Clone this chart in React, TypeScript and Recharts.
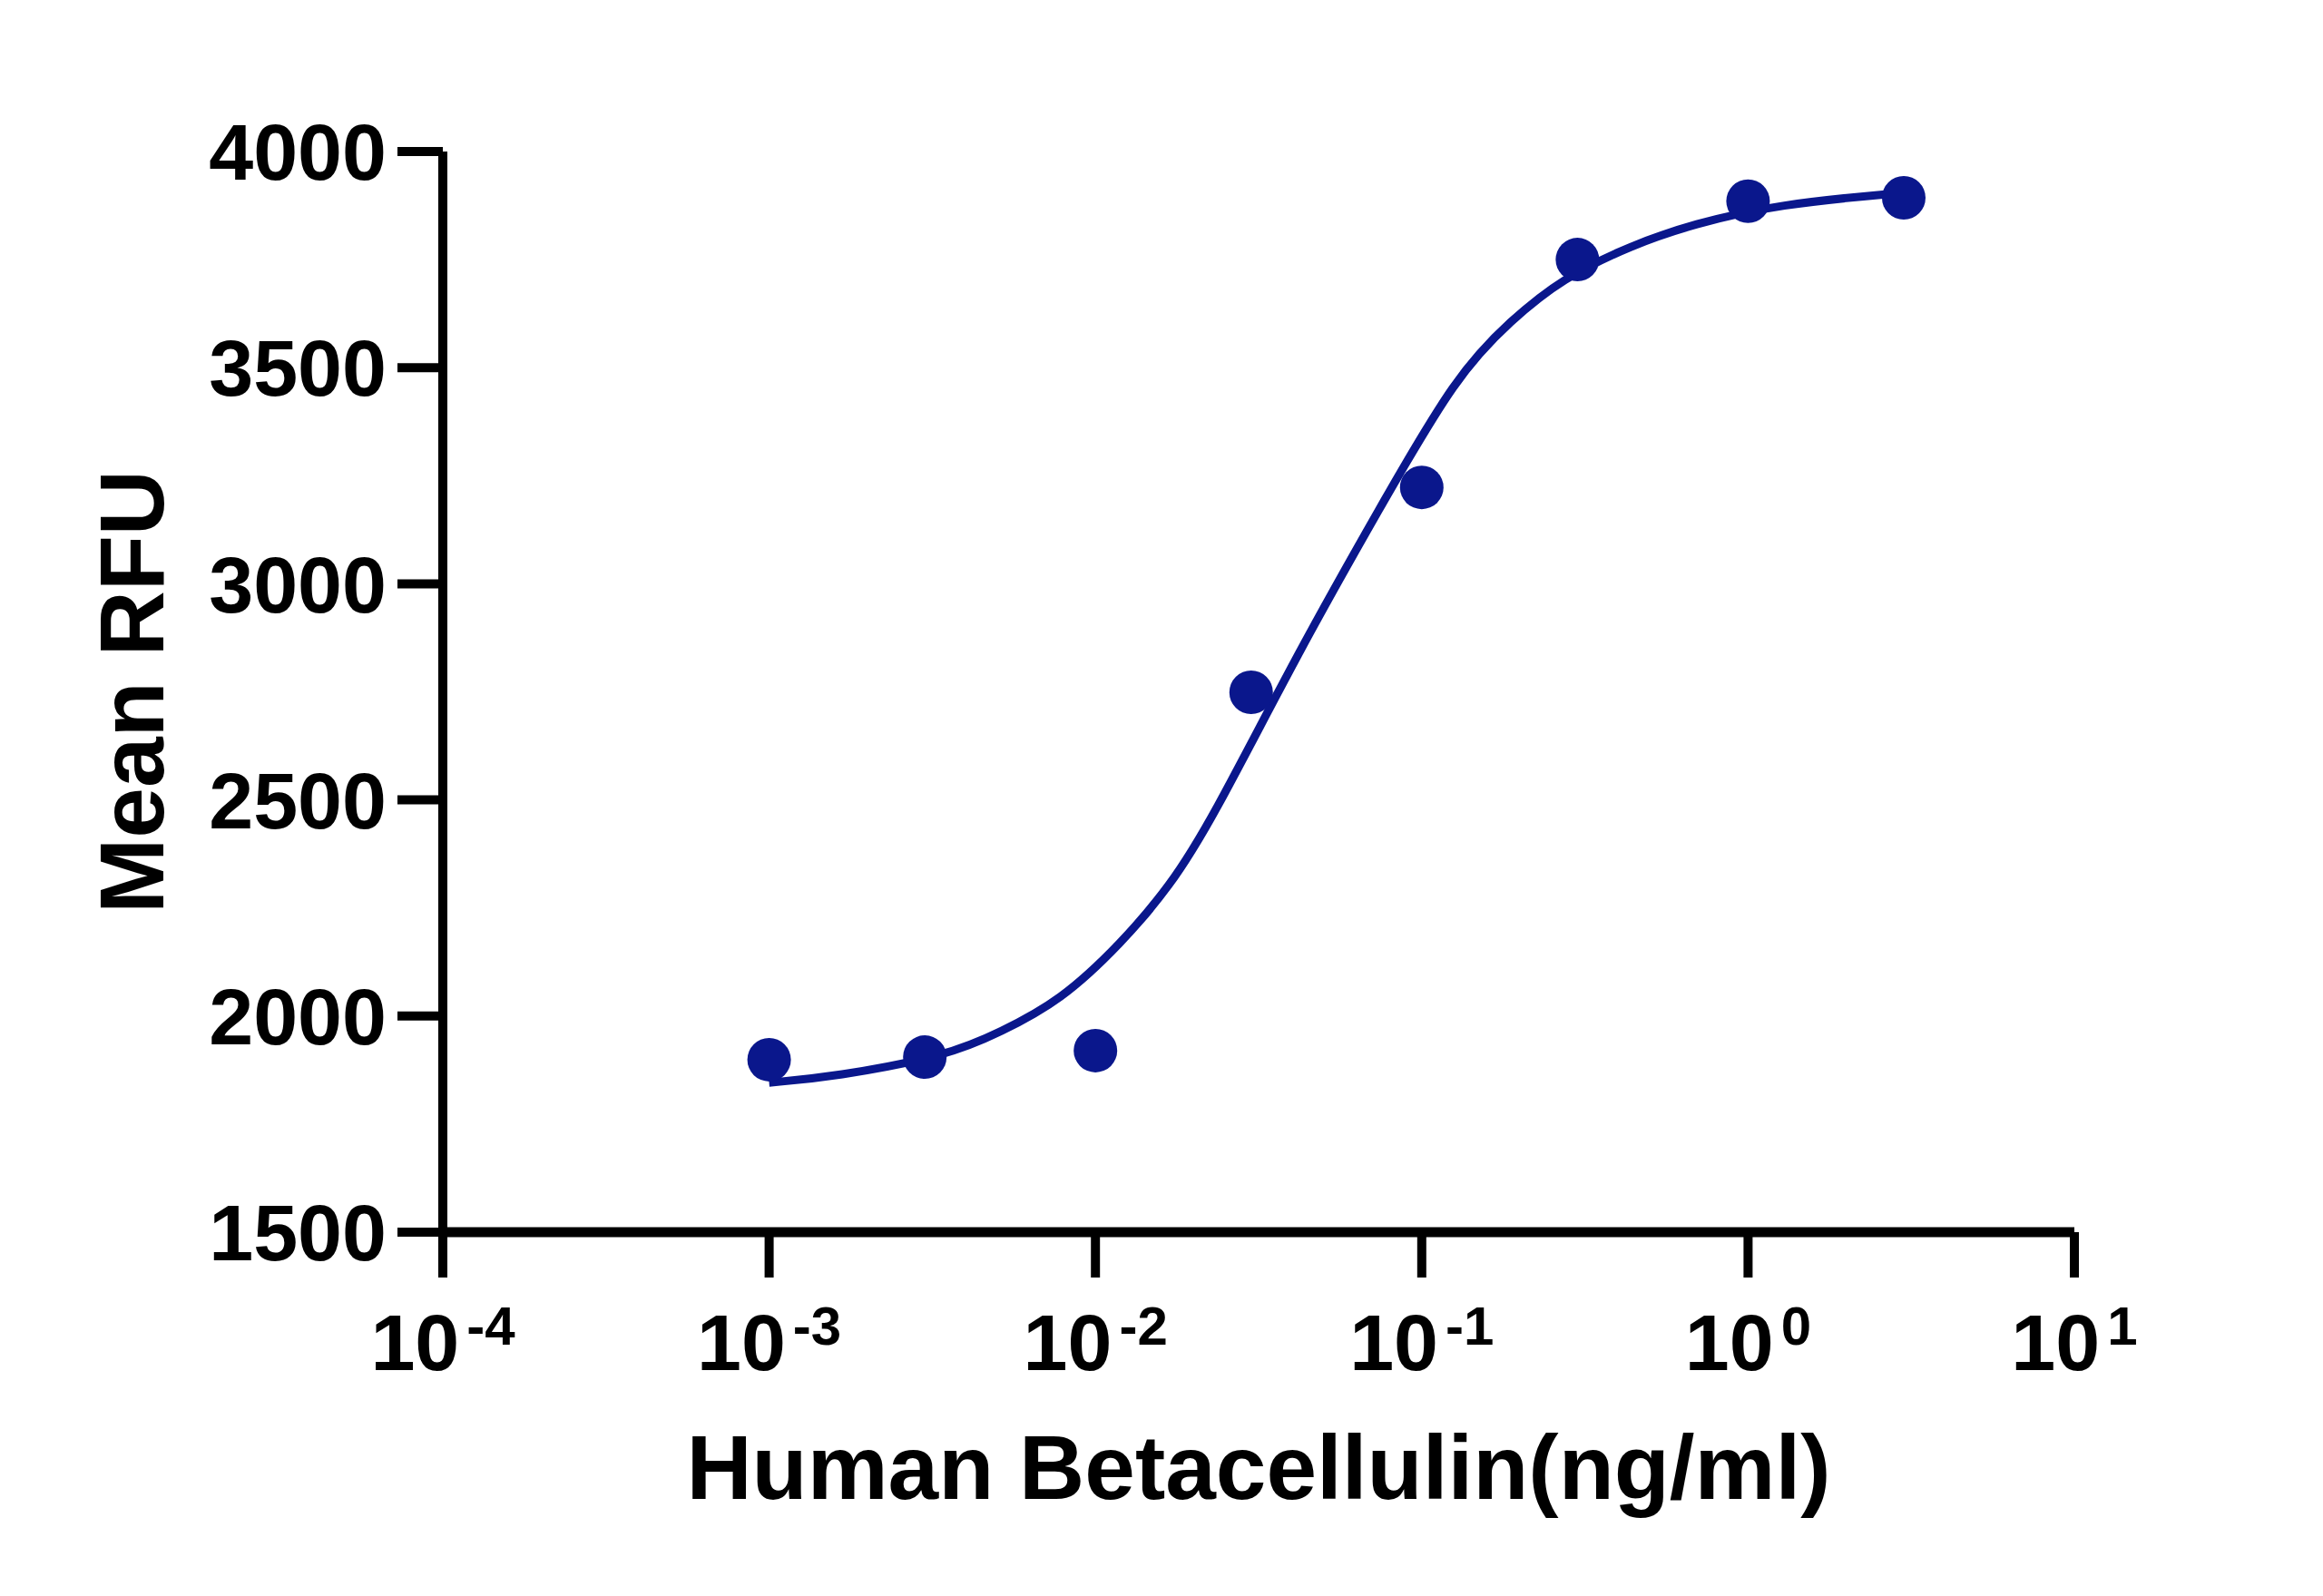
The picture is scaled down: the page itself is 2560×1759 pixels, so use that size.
import React from 'react';
import { ComposedChart, Line, Scatter, XAxis, YAxis, Label } from 'recharts';

// Measured points (concentration ng/ml, Mean RFU)
const doseX = [0.001, 0.003, 0.01, 0.03, 0.1, 0.3, 1, 3];
const doseY = [1899, 1905, 1920, 2749, 3223, 3750, 3885, 3893];

// Fitted curve
const fitX = [0.001, 0.00158, 0.00355, 0.00509, 0.00781, 0.012, 0.0169, 0.0225, 0.0421, 0.0743, 0.128, 0.188, 0.269, 0.441, 0.678, 1.23, 3];
const fitY = [1846, 1859, 1909, 1962, 2035, 2168, 2300, 2447, 2846, 3175, 3484, 3610, 3706, 3784, 3832, 3878, 3905];

const xTicks = [0.0001, 0.001, 0.01, 0.1, 1, 10];
const yTicks = [1500, 2000, 2500, 3000, 3500, 4000];

const xTitle = 'Human Betacellulin(ng/ml)';
const yTitle = 'Mean RFU';

const points = doseX.map((x, i) => ({ x, y: doseY[i] }));
const curve = fitX.map((x, i) => ({ x, y: fitY[i] }));

const NAVY = '#0A178C';
const FONT = '"Liberation Sans", Arial, Helvetica, sans-serif';

const XTick = (props: any) => {
  const { x, y, payload } = props;
  const exp = Math.round(Math.log10(payload.value));
  const sup = exp < 0 ? '-' + Math.abs(exp) : String(exp);
  return (
    <text x={x} y={y + 100} textAnchor="middle" fontFamily={FONT} fontWeight={700} fontSize={88} fill="#000">
      <tspan>10</tspan>
      <tspan dx={8} dy={-28} fontSize={60}>{sup}</tspan>
    </text>
  );
};

const YTitle = (props: any) => {
  const vb = props.viewBox || {};
  const cx = vb.x + vb.width - 308;
  const cy = vb.y + vb.height / 2;
  return (
    <text x={cx} y={cy} textAnchor="middle" fontFamily={FONT} fontWeight={700} fontSize={100} fill="#000"
      transform={`rotate(-90, ${cx}, ${cy})`}>{yTitle}</text>
  );
};

const XTitle = (props: any) => {
  const vb = props.viewBox || {};
  const cx = vb.x + vb.width / 2;
  const cy = vb.y + 294;
  return (
    <text x={cx} y={cy} textAnchor="middle" fontFamily={FONT} fontWeight={700} fontSize={100} fill="#000">{xTitle}</text>
  );
};

const Dot = (props: any) => <circle cx={props.cx} cy={props.cy} r={24} fill={NAVY} />;

export default function App() {
  return (
    <div style={{ width: 2544, height: 1743, background: '#fff' }}>
      <ComposedChart width={2544} height={1743} margin={{ top: 159, right: 266, left: 380, bottom: 293 }}>
        <XAxis
          dataKey="x"
          type="number"
          scale="log"
          domain={[0.0001, 10]}
          ticks={xTicks}
          allowDataOverflow
          height={100}
          tickSize={50}
          tickMargin={2}
          axisLine={{ stroke: '#000', strokeWidth: 11 }}
          tickLine={{ stroke: '#000', strokeWidth: 10 }}
          tick={<XTick />}
          interval={0}
        >
          <Label content={<XTitle />} />
        </XAxis>
        <YAxis
          dataKey="y"
          type="number"
          domain={[1500, 4000]}
          ticks={yTicks}
          allowDataOverflow
          width={100}
          tickSize={50}
          tickMargin={12}
          axisLine={{ stroke: '#000', strokeWidth: 10 }}
          tickLine={{ stroke: '#000', strokeWidth: 10 }}
          tick={{ fontSize: 88, fontWeight: 700, fill: '#000', fontFamily: FONT }}
          interval={0}
        >
          <Label content={<YTitle />} />
        </YAxis>
        <Line data={curve} dataKey="y" type="basis" stroke={NAVY} strokeWidth={9} dot={false}
          activeDot={false} isAnimationActive={false} />
        <Scatter data={points} dataKey="y" fill={NAVY} shape={<Dot />} isAnimationActive={false} />
      </ComposedChart>
    </div>
  );
}
